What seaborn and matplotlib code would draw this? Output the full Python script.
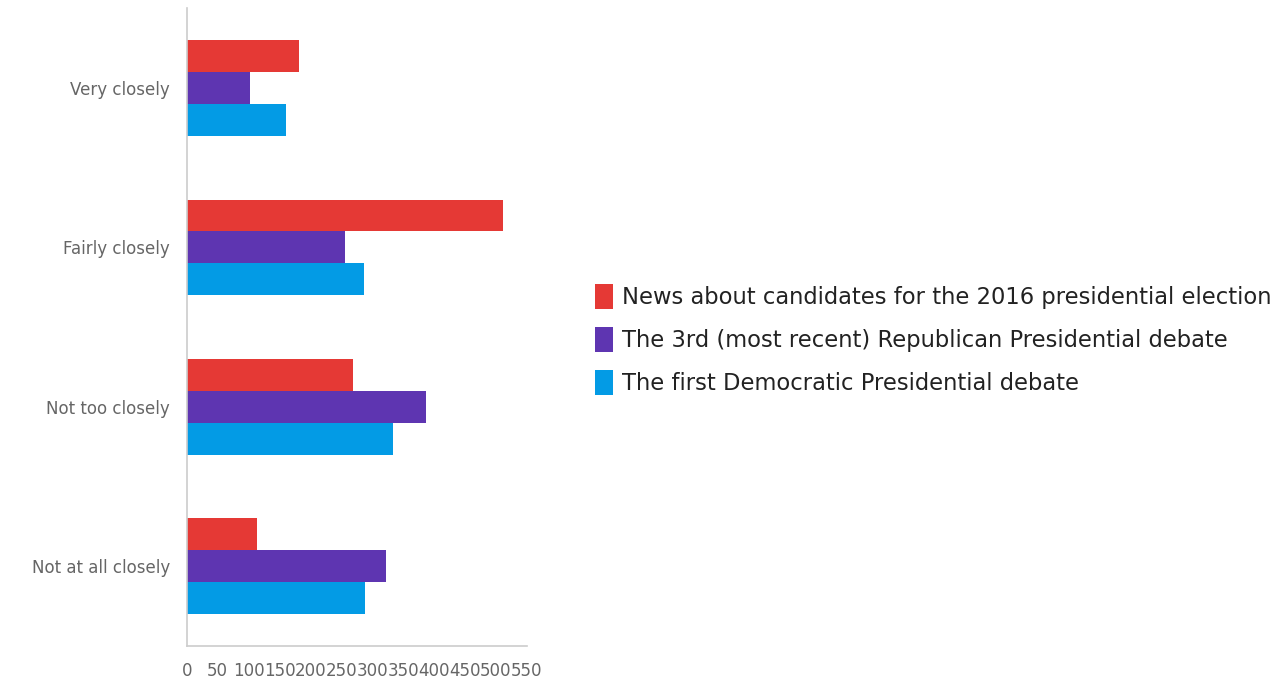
import matplotlib.pyplot as plt
import pandas as pd
import seaborn as sns

# how closely people followed each story
levels = ['Very closely', 'Fairly closely', 'Not too closely', 'Not at all closely']
series = ['News about candidates for the 2016 presidential election',
          'The 3rd (most recent) Republican Presidential debate',
          'The first Democratic Presidential debate']
news_2016 = [181, 511, 269, 113]
rep_debate = [103, 256, 387, 323]
dem_debate = [161, 286, 333, 289]
colors = ['#E53935', '#5E35B1', '#039BE5']

rows = []
for name, vals in zip(series, [news_2016, rep_debate, dem_debate]):
    for lev, v in zip(levels, vals):
        rows.append({'level': lev, 'series': name, 'value': v})
df = pd.DataFrame(rows)

sns.set_style('white')
plt.rcParams['font.family'] = ['DejaVu Sans']

fig, ax = plt.subplots(figsize=(12.88, 6.87), dpi=100)
fig.subplots_adjust(left=0.145, right=0.409, top=0.988, bottom=0.06)

sns.barplot(data=df, y='level', x='value', hue='series', order=levels,
            hue_order=series, palette=colors, saturation=1, width=0.6,
            orient='h', linewidth=0, ax=ax)

ax.set_xlim(0, 550)
ax.set_ylim(3.5, -0.5)
ax.set_xticks(range(0, 551, 50))
ax.set_xlabel('')
ax.set_ylabel('')
ax.tick_params(axis='both', length=0, labelsize=12, labelcolor='#666666')
ax.tick_params(axis='y', pad=12)
ax.tick_params(axis='x', pad=12)

for side in ['top', 'right']:
    ax.spines[side].set_visible(False)
for side in ['left', 'bottom']:
    ax.spines[side].set_color('#cccccc')
    ax.spines[side].set_linewidth(1.2)

ax.legend(loc='center left', bbox_to_anchor=(1.14, 0.48), frameon=False,
          fontsize=16.3, handlelength=0.8, handleheight=1.3, handletextpad=0.4,
          labelspacing=0.8, labelcolor='#222222')

plt.savefig('out.png', dpi=100)
